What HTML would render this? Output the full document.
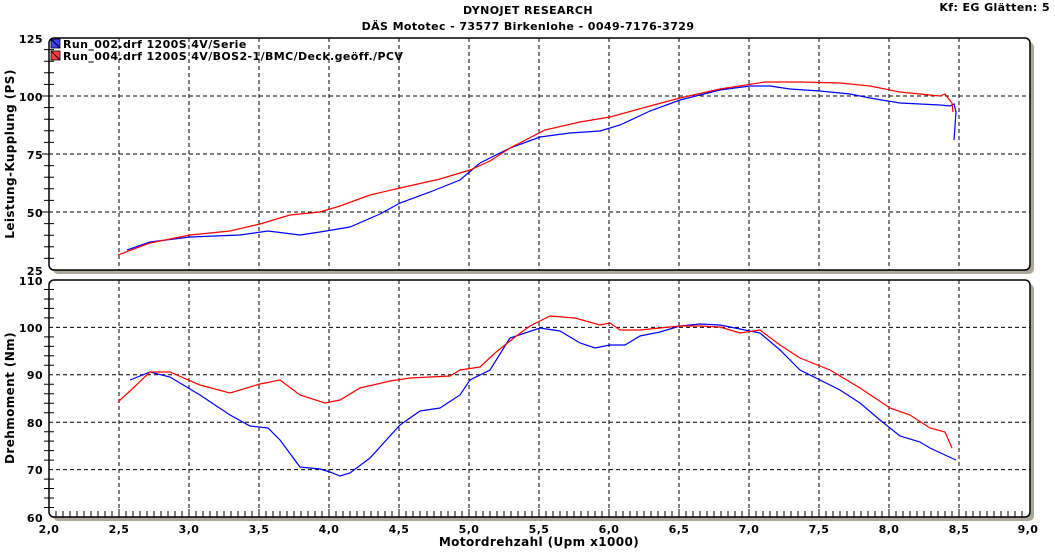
<!DOCTYPE html>
<html><head><meta charset="utf-8"><style>
html,body{margin:0;padding:0;background:#fff;}
svg text{font-family:"DejaVu Sans","Liberation Sans",sans-serif;font-weight:bold;font-size:11px;fill:#000;letter-spacing:0.4px;}
</style></head><body>
<svg width="1055" height="549" viewBox="0 0 1055 549" xmlns="http://www.w3.org/2000/svg">
<text x="528" y="14" text-anchor="middle">DYNOJET RESEARCH</text>
<text x="528" y="30" text-anchor="middle">DÄS Mototec - 73577 Birkenlohe  - 0049-7176-3729</text>
<text x="1050" y="11" text-anchor="end">Kf: EG  Glätten: 5</text>
<rect x="53" y="42" width="981" height="232" rx="5" fill="#aca899"/>
<rect x="53" y="284" width="981" height="237" rx="5" fill="#aca899"/>
<rect x="49" y="38" width="981" height="232" rx="5" fill="#fff" stroke="#000" stroke-width="1.5"/>
<rect x="49" y="280" width="981" height="237" rx="5" fill="#fff" stroke="#000" stroke-width="1.5"/>
<g stroke="#000" stroke-dasharray="4,3" stroke-width="1">
<path d="M49 96H1030M49 154H1030M49 212H1030M49 327.4H1030M49 374.8H1030M49 422.2H1030M49 469.6H1030"/>
<path d="M119 38V270M189 38V270M259 38V270M329 38V270M399 38V270M469 38V270M539 38V270M609 38V270M679 38V270M749 38V270M819 38V270M889 38V270M959 38V270"/>
<path d="M119 280V517M189 280V517M259 280V517M329 280V517M399 280V517M469 280V517M539 280V517M609 280V517M679 280V517M749 280V517M819 280V517M889 280V517M959 280V517"/>
</g>
<g stroke="#000" stroke-width="1">
<path d="M44 49.6h10M44 61.2h10M44 72.8h10M44 84.4h10M44 107.6h10M44 119.2h10M44 130.8h10M44 142.4h10M44 165.6h10M44 177.2h10M44 188.8h10M44 200.4h10M44 223.6h10M44 235.2h10M44 246.8h10M44 258.4h10M42 96h7M42 154h7M42 212h7"/>
<path d="M44 289.5h10M44 299h10M44 308.4h10M44 317.9h10M44 336.9h10M44 346.4h10M44 355.8h10M44 365.3h10M44 384.3h10M44 393.7h10M44 403.2h10M44 412.7h10M44 431.7h10M44 441.1h10M44 450.6h10M44 460.1h10M44 479.1h10M44 488.5h10M44 498h10M44 507.5h10"/>
</g>
<g text-anchor="end">
<text x="43" y="43">125</text><text x="43" y="101">100</text><text x="43" y="159">75</text><text x="43" y="217">50</text><text x="43" y="275">25</text>
<text x="43" y="285">110</text><text x="43" y="332">100</text><text x="43" y="379">90</text><text x="43" y="427">80</text><text x="43" y="474">70</text><text x="43" y="522">60</text>
</g>
<g text-anchor="middle">
<text x="49" y="533">2,0</text><text x="119" y="533">2,5</text><text x="189" y="533">3,0</text><text x="259" y="533">3,5</text><text x="329" y="533">4,0</text><text x="399" y="533">4,5</text><text x="469" y="533">5,0</text><text x="539" y="533">5,5</text><text x="609" y="533">6,0</text><text x="679" y="533">6,5</text><text x="749" y="533">7,0</text><text x="819" y="533">7,5</text><text x="889" y="533">8,0</text><text x="959" y="533">8,5</text><text x="1028" y="533">9,0</text>
<text x="539" y="546" style="font-size:12px">Motordrehzahl (Upm x1000)</text>
</g>
<text transform="translate(14,154) rotate(-90)" text-anchor="middle" style="font-size:12px">Leistung-Kupplung (PS)</text>
<text transform="translate(14,398) rotate(-90)" text-anchor="middle" style="font-size:12px">Drehmoment (Nm)</text>
<rect x="51" y="39" width="9" height="9" fill="#4040ff" stroke="#000" stroke-width="0.8"/><path d="M51 39L60 48" stroke="#000"/>
<rect x="51" y="51" width="9" height="9" fill="#ff4040" stroke="#000" stroke-width="0.8"/><path d="M51 51L60 60" stroke="#000"/>
<text x="63" y="48">Run_002.drf 1200S 4V/Serie</text>
<text x="63" y="60">Run_004.drf 1200S 4V/BOS2-1/BMC/Deck.geöff./PCV</text>
<g fill="none" stroke-width="1.2">
<polyline stroke="#0000ff" points="127,250 150,242 190,237 240,235 268,231 300,235 320,232 350,227 380,214 400,203 430,192 460,180 480,163 510,148 540,137 570,133 600,131 620,125 650,111 680,100 720,90 750,86 770,86 790,89 820,91 850,94 870,98 900,103 940,105 950,106 954,104 956,112 954,140"/>
<polyline stroke="#ff0000" points="118,255 150,243 190,235 230,231 260,224 290,215 320,212 340,206 370,195 400,188 440,179 470,170 490,161 510,148 545,130 580,122 610,117 650,106 680,98 720,89 765,82 800,82 840,83 870,86 900,92 920,94 940,96 945,94 948,98 952,103 953,112"/>
<polyline stroke="#0000ff" points="130,380 150,372 170,377 200,395 230,415 250,426 268,428 280,440 300,467 320,469 330,472 340,476 350,473 370,458 400,425 420,411 440,408 460,395 470,380 490,370 510,338 540,328 560,331 580,343 595,348 610,345 625,345 640,336 660,332 680,326 700,324 720,325 740,329 760,333 780,350 800,370 840,390 860,403 880,420 900,436 920,442 930,448 945,455 956,460"/>
<polyline stroke="#ff0000" points="118,402 130,391 150,372 170,372 200,385 230,393 260,384 280,380 300,395 325,403 340,400 360,388 390,381 410,378 430,377 450,376 460,370 480,367 495,353 515,337 530,326 550,316 575,318 600,325 610,323 620,330 640,330 660,328 680,326 700,326 720,327 740,333 760,330 780,345 800,358 830,370 860,388 890,408 910,415 930,428 945,432 952,448"/>
</g>
<g stroke="#000" stroke-width="1">
<path d="M56 511v6M63 511v6M70 511v6M77 511v6M84 511v6M91 511v6M98 511v6M105 511v6M112 511v6M119 509v8M126 511v6M133 511v6M140 511v6M147 511v6M154 511v6M161 511v6M168 511v6M175 511v6M182 511v6M189 509v8M196 511v6M203 511v6M210 511v6M217 511v6M224 511v6M231 511v6M238 511v6M245 511v6M252 511v6M259 509v8M266 511v6M273 511v6M280 511v6M287 511v6M294 511v6M301 511v6M308 511v6M315 511v6M322 511v6M329 509v8M336 511v6M343 511v6M350 511v6M357 511v6M364 511v6M371 511v6M378 511v6M385 511v6M392 511v6M399 509v8M406 511v6M413 511v6M420 511v6M427 511v6M434 511v6M441 511v6M448 511v6M455 511v6M462 511v6M469 509v8M476 511v6M483 511v6M490 511v6M497 511v6M504 511v6M511 511v6M518 511v6M525 511v6M532 511v6M539 509v8M546 511v6M553 511v6M560 511v6M567 511v6M574 511v6M581 511v6M588 511v6M595 511v6M602 511v6M609 509v8M616 511v6M623 511v6M630 511v6M637 511v6M644 511v6M651 511v6M658 511v6M665 511v6M672 511v6M679 509v8M686 511v6M693 511v6M700 511v6M707 511v6M714 511v6M721 511v6M728 511v6M735 511v6M742 511v6M749 509v8M756 511v6M763 511v6M770 511v6M777 511v6M784 511v6M791 511v6M798 511v6M805 511v6M812 511v6M819 509v8M826 511v6M833 511v6M840 511v6M847 511v6M854 511v6M861 511v6M868 511v6M875 511v6M882 511v6M889 509v8M896 511v6M903 511v6M910 511v6M917 511v6M924 511v6M931 511v6M938 511v6M945 511v6M952 511v6M959 509v8M966 511v6M973 511v6M980 511v6M987 511v6M994 511v6M1001 511v6M1008 511v6M1015 511v6M1022 511v6"/>
</g>
</svg>
</body></html>
